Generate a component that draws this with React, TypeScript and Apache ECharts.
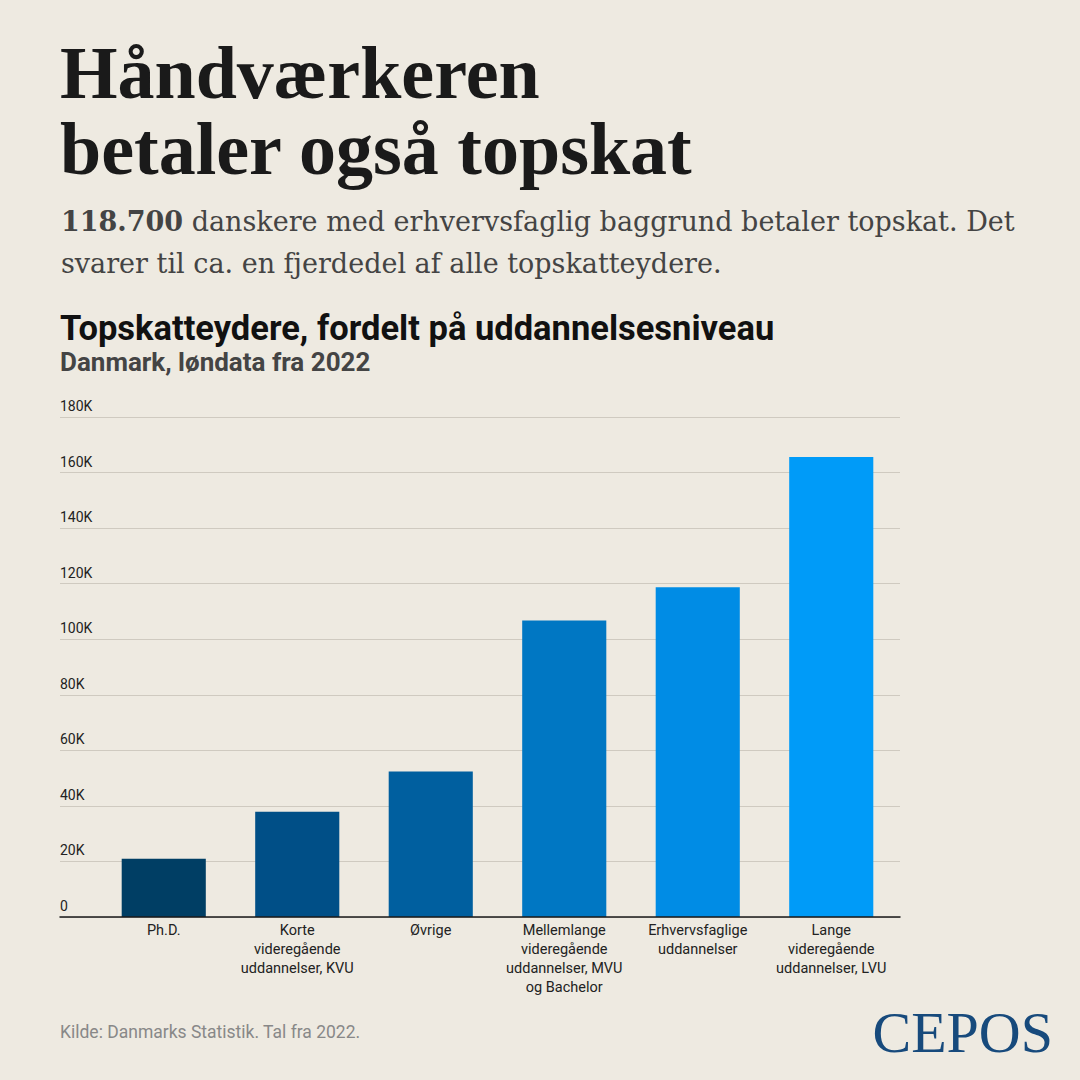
import React, { useEffect, useRef } from "react";
import * as echarts from "echarts";

const categories = [
  "Ph.D.",
  "Korte\nvideregående\nuddannelser, KVU",
  "Øvrige",
  "Mellemlange\nvideregående\nuddannelser, MVU\nog Bachelor",
  "Erhvervsfaglige\nuddannelser",
  "Lange\nvideregående\nuddannelser, LVU",
];
const values = [21000, 37900, 52400, 106700, 118700, 165600];
const barColors = ["#003E64", "#004F87", "#005F9F", "#0077C3", "#008CE5", "#009BF8"];
const yTicks = { min: 0, max: 180000, interval: 20000 };

const titleLines = ["Håndværkeren", "betaler også topskat"];
const leadLines = [
  "{b|118.700} danskere med erhvervsfaglig baggrund betaler topskat. Det",
  "svarer til ca. en fjerdedel af alle topskatteydere.",
];
const chartTitle = "Topskatteydere, fordelt på uddannelsesniveau";
const chartSubtitle = "Danmark, løndata fra 2022";
const sourceText = "Kilde: Danmarks Statistik. Tal fra 2022.";
const logoText = "CEPOS";

const SANS = 'Roboto, "Noto Sans", sans-serif';
const SERIF = '"Liberation Serif", "DejaVu Serif", serif';
const LEAD = '"DejaVu Serif", "Liberation Serif", serif';

export default function App() {
  const ref = useRef<HTMLDivElement>(null);
  useEffect(() => {
    document.body.style.margin = "0";
    const chart = echarts.init(ref.current!, null, { renderer: "svg" });
    const gridTop = 417;
    const gridBottom = 1080 - 917;
    chart.setOption({
      animation: false,
      backgroundColor: "#EEEAE1",
      grid: [
        { left: 60, right: 180, top: gridTop, bottom: gridBottom },
        { left: 97, right: 182, top: gridTop, bottom: gridBottom },
      ],
      xAxis: [
        {
          gridIndex: 0,
          type: "category",
          data: [""],
          axisLine: { show: true, lineStyle: { color: "#1a1a1a", width: 1.5 } },
          axisTick: { show: false },
          axisLabel: { show: false },
          z: 5,
        },
        {
          gridIndex: 1,
          type: "category",
          data: categories,
          axisLine: { show: false },
          axisTick: { show: false },
          axisLabel: {
            interval: 0,
            color: "#222",
            fontFamily: SANS,
            fontSize: 14.5,
            lineHeight: 19,
            margin: 4,
            align: "center",
          },
        },
      ],
      yAxis: [
        {
          gridIndex: 0,
          type: "value",
          min: yTicks.min,
          max: yTicks.max,
          interval: yTicks.interval,
          axisLine: { show: false },
          axisTick: { show: false },
          splitLine: { lineStyle: { color: "#CFCAC0", width: 1 } },
          axisLabel: {
            inside: true,
            margin: 0,
            align: "left",
            verticalAlign: "bottom",
            padding: [0, 0, 4, 0],
            color: "#222",
            fontFamily: SANS,
            fontSize: 14,
            formatter: (v: number) => (v === 0 ? "0" : v / 1000 + "K"),
          },
        },
        {
          gridIndex: 1,
          type: "value",
          min: yTicks.min,
          max: yTicks.max,
          interval: yTicks.interval,
          show: false,
        },
      ],
      series: [
        {
          type: "bar",
          xAxisIndex: 1,
          yAxisIndex: 1,
          barWidth: "63%",
          data: values.map((v, i) => ({ value: v, itemStyle: { color: barColors[i] } })),
        },
      ],
      graphic: [
        ...titleLines.map((t, i) => ({
          type: "text",
          x: 60,
          y: 73 + i * 76,
          style: {
            text: t,
            font: `bold 74px ${SERIF}`,
            fill: "#1a1a1a",
            verticalAlign: "middle",
          },
        })),
        ...leadLines.map((t, i) => ({
          type: "text",
          x: 61,
          y: 221 + i * 42,
          style: {
            text: t,
            font: `27px ${LEAD}`,
            fill: "#444",
            verticalAlign: "middle",
            rich: {
              b: { font: `bold 27px ${LEAD}`, fill: "#444" },
            },
          },
        })),
        {
          type: "text",
          x: 60,
          y: 328,
          style: {
            text: chartTitle,
            font: `bold 34.5px ${SANS}`,
            fill: "#111",
            verticalAlign: "middle",
          },
        },
        {
          type: "text",
          x: 60,
          y: 362,
          style: {
            text: chartSubtitle,
            font: `bold 26px ${SANS}`,
            fill: "#444",
            verticalAlign: "middle",
          },
        },
        {
          type: "text",
          x: 60,
          y: 1032,
          style: {
            text: sourceText,
            font: `17.5px ${SANS}`,
            fill: "#888",
            verticalAlign: "middle",
          },
        },
        {
          type: "text",
          x: 1053,
          y: 1032,
          style: {
            text: logoText,
            font: `58px ${SERIF}`,
            fill: "#174A7C",
            align: "right",
            verticalAlign: "middle",
          },
        },
      ],
    });
    return () => chart.dispose();
  }, []);
  return (
    <div
      ref={ref}
      style={{ position: "fixed", left: 0, top: 0, width: 1080, height: 1080 }}
    />
  );
}
